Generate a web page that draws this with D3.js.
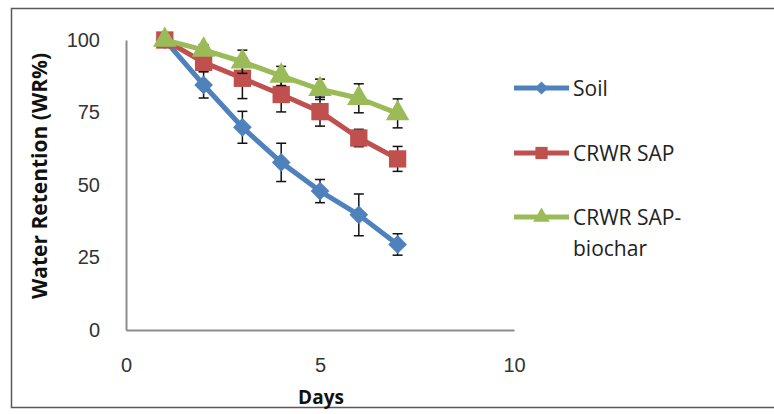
<!DOCTYPE html>
<html>
<head>
<meta charset="utf-8">
<script src="https://cdn.jsdelivr.net/npm/d3@7"></script>
<style>
  body { margin: 0; background: #fff; }
  svg { display: block; font-family: "Open Sans", "Liberation Sans", sans-serif; }
</style>
</head>
<body>
<div id="chart"></div>
<script>
// Data
const days = [1, 2, 3, 4, 5, 6, 7];
const soil = [100, 84.5, 69.9, 57.8, 47.9, 39.7, 29.5];
const soilErr = [0, 4.5, 5.5, 6.6, 4, 7.2, 3.7];
const sap = [100, 92.3, 86.8, 81.2, 75.3, 66.2, 59];
const sapErr = [0, 3, 7, 6, 5, 3, 4.3];
const biochar = [100, 96.6, 92.5, 87.6, 83, 79.9, 74.7];
const biocharErr = [0, 1.8, 4, 3.3, 3.5, 5, 5];
const xTicks = [0, 5, 10];
const yTicks = [0, 25, 50, 75, 100];

const series = [
  { name: "Soil", values: soil, err: soilErr, color: "#4F81BD", shape: "diamond" },
  { name: "CRWR SAP", values: sap, err: sapErr, color: "#C0504D", shape: "square" },
  { name: "CRWR SAP-biochar", values: biochar, err: biocharErr, color: "#9BBB59", shape: "triangle" },
];

const W = 774, H = 414;
const svg = d3.select("#chart").append("svg").attr("width", W).attr("height", H);

// outer chart frame
svg.append("rect")
  .attr("x", 11.5).attr("y", 8.5)
  .attr("width", 820).attr("height", 399)
  .attr("fill", "none").attr("stroke", "#595959").attr("stroke-width", 1.5);

const x = d3.scaleLinear().domain([0, 10]).range([126, 514]);
const y = d3.scaleLinear().domain([0, 100]).range([330, 40]);

const xAxis = svg.append("g")
  .attr("transform", `translate(0,${y(0)})`)
  .call(d3.axisBottom(x).tickValues(xTicks).tickSize(0).tickPadding(28));
const yAxis = svg.append("g")
  .attr("transform", `translate(${x(0)},0)`)
  .call(d3.axisLeft(y).tickValues(yTicks).tickSize(0).tickPadding(26));

[xAxis, yAxis].forEach((g) => {
  g.select(".domain").attr("stroke", "#8c8c8c").attr("stroke-width", 2);
  g.selectAll("text").attr("font-size", 20).attr("fill", "#333");
});

svg.append("text")
  .attr("x", 321).attr("y", 404)
  .attr("text-anchor", "middle")
  .attr("font-size", 19).attr("font-weight", "bold").attr("fill", "#111")
  .text("Days");

svg.append("text")
  .attr("transform", `translate(47,176) rotate(-90)`)
  .attr("text-anchor", "middle")
  .attr("font-size", 21).attr("font-weight", "bold").attr("fill", "#111")
  .text("Water Retention (WR%)");

const markerPath = (shape, scale = 1) => {
  if (shape === "diamond") return d3.symbol(d3.symbolSquare, 175 * scale)();
  if (shape === "square") return d3.symbol(d3.symbolSquare, 300 * scale)();
  return d3.symbol(d3.symbolTriangle, 240 * scale)();
};
const markerRotate = (shape) => (shape === "diamond" ? " rotate(45)" : "");

const line = d3.line()
  .x((d, i) => x(days[i]))
  .y((d) => y(d));

series.forEach((s) => {
  const g = svg.append("g");

  // error bars
  const eb = g.selectAll(".eb")
    .data(days.map((d, i) => ({ d, v: s.values[i], e: s.err[i] })).filter((p) => p.e > 0))
    .enter().append("g")
    .attr("stroke", "#111").attr("stroke-width", 1.5);
  eb.append("line")
    .attr("x1", (p) => x(p.d)).attr("x2", (p) => x(p.d))
    .attr("y1", (p) => y(p.v - p.e)).attr("y2", (p) => y(p.v + p.e));
  eb.append("line")
    .attr("x1", (p) => x(p.d) - 5).attr("x2", (p) => x(p.d) + 5)
    .attr("y1", (p) => y(p.v + p.e)).attr("y2", (p) => y(p.v + p.e));
  eb.append("line")
    .attr("x1", (p) => x(p.d) - 5).attr("x2", (p) => x(p.d) + 5)
    .attr("y1", (p) => y(p.v - p.e)).attr("y2", (p) => y(p.v - p.e));

  g.append("path")
    .datum(s.values)
    .attr("d", line)
    .attr("fill", "none")
    .attr("stroke", s.color)
    .attr("stroke-width", 5)
    .attr("stroke-linejoin", "round");

  g.selectAll(".mk")
    .data(s.values)
    .enter().append("path")
    .attr("d", markerPath(s.shape))
    .attr("transform", (d, i) => `translate(${x(days[i])},${y(d)})${markerRotate(s.shape)}`)
    .attr("fill", s.color);
});

// legend
const legendY = [88, 153, 217];
series.forEach((s, i) => {
  const g = svg.append("g").attr("transform", `translate(0,${legendY[i]})`);
  g.append("line")
    .attr("x1", 514).attr("x2", 569)
    .attr("stroke", s.color).attr("stroke-width", 5);
  g.append("path")
    .attr("d", markerPath(s.shape, 0.5))
    .attr("transform", `translate(541.5,0)${markerRotate(s.shape)}`)
    .attr("fill", s.color);
  const t = g.append("text")
    .attr("x", 573).attr("y", 8)
    .attr("font-size", 21).attr("fill", "#222");
  if (s.name === "CRWR SAP-biochar") {
    t.append("tspan").attr("x", 573).text("CRWR SAP-");
    t.append("tspan").attr("x", 573).attr("dy", 31).text("biochar");
  } else {
    t.text(s.name);
  }
});
</script>
</body>
</html>
